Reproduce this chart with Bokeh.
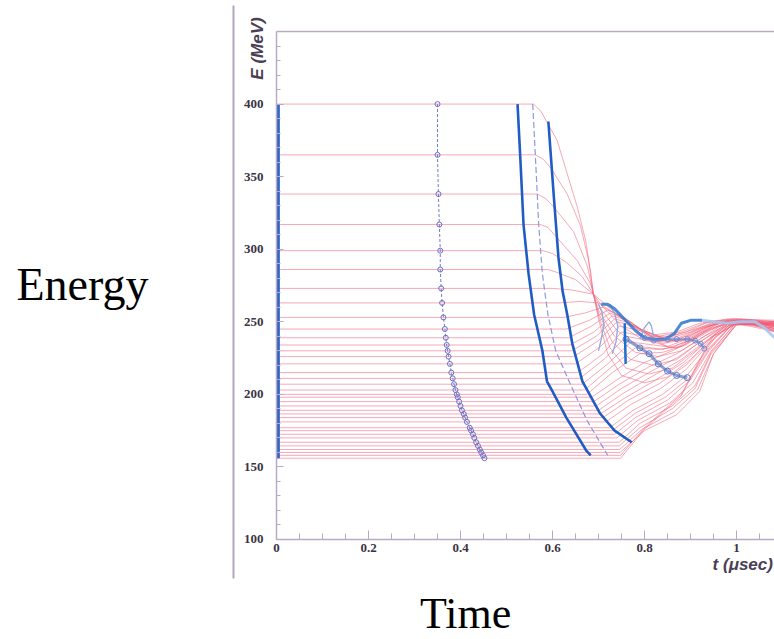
from bokeh.plotting import figure
from bokeh.models import Range1d, LinearAxis, FixedTicker, Label, Arrow, CustomJSTickFormatter
from bokeh.embed import file_html
from bokeh.resources import INLINE

# ---------------- data (t in microseconds, E in MeV) ----------------
E0 = [400, 365, 338, 317, 299, 286, 273, 263, 253, 245, 239, 234, 230, 226, 221, 215, 211, 207, 203, 200,
      198, 195, 192, 189, 186.5, 184, 181, 177, 175, 172.5, 170, 167, 164.5, 162, 160, 158, 156]

START_T = 0.004

BEND_T = [0.559, 0.563, 0.567, 0.574, 0.58, 0.59, 0.60, 0.615, 0.625, 0.63, 0.635, 0.638, 0.642, 0.646,
          0.65, 0.655, 0.66, 0.665, 0.67, 0.675, 0.685, 0.69, 0.695, 0.70, 0.704, 0.71, 0.716, 0.724,
          0.73, 0.735, 0.74, 0.745, 0.745, 0.746, 0.747, 0.748, 0.748]

TAIL_T = [
    [.575, .61, .632, .654, .672, .683, .689, .70, .72, .75, .80, .85, .90, .95, 1.0, 1.05, 1.09],
    [.58, .596, .632, .661, .678, .689, .70, .725, .76, .81, .86, .91, .96, 1.0, 1.05, 1.09],
    [.585, .603, .646, .676, .689, .70, .73, .77, .82, .87, .92, .97, 1.02, 1.09],
    [.59, .607, .654, .683, .689, .70, .735, .78, .83, .88, .93, .98, 1.03, 1.09],
    [.60, .63, .665, .689, .705, .74, .79, .84, .89, .94, .99, 1.04, 1.09],
    [.61, .65, .689, .71, .75, .80, .85, .90, .95, 1.0, 1.09],
    [.64, .689, .715, .76, .81, .86, .91, .96, 1.01, 1.09],
    [.66, .70, .73, .77, .82, .87, .92, .98, 1.09],
    [.67, .71, .74, .78, .83, .88, .93, .99, 1.09],
    [.68, .72, .75, .79, .84, .89, .94, 1.0, 1.09],
    [.685, .725, .76, .80, .85, .90, .95, 1.01, 1.09],
    [.69, .73, .765, .81, .86, .91, .96, 1.02, 1.09],
    [.695, .735, .77, .82, .87, .92, .97, 1.03, 1.09],
    [.70, .74, .78, .83, .88, .93, .98, 1.09],
    [.705, .745, .79, .84, .89, .94, .99, 1.09],
    [.71, .75, .80, .85, .90, .95, 1.0, 1.09],
    [.715, .76, .81, .86, .91, .96, 1.01, 1.09],
    [.72, .77, .82, .87, .92, .97, 1.02, 1.09],
    [.725, .78, .83, .88, .93, .98, 1.09],
    [.73, .79, .84, .89, .94, .99, 1.09],
    [.74, .80, .86, .91, .96, 1.01, 1.09],
    [.745, .81, .87, .92, .97, 1.02, 1.09],
    [.75, .815, .875, .925, .975, 1.03, 1.09],
    [.755, .82, .88, .93, .98, 1.03, 1.09],
    [.76, .825, .885, .93, .98, 1.04, 1.09],
    [.765, .83, .89, .935, .985, 1.04, 1.09],
    [.77, .835, .89, .935, .985, 1.09],
    [.775, .84, .895, .94, .99, 1.09],
    [.78, .845, .90, .94, .99, 1.09],
    [.78, .85, .90, .94, .99, 1.09],
    [.785, .855, .905, .945, .995, 1.09],
    [.79, .86, .91, .945, .995, 1.09],
    [.79, .86, .91, .945, 1.0, 1.09],
    [.795, .865, .915, .95, 1.0, 1.09],
    [.80, .87, .92, .95, 1.0, 1.09],
    [.80, .88, .93, .95, 1.0, 1.09],
    [.80, .88, .93, .955, 1.0, 1.09],
]
TAIL_E = [
    [395, 375, 352, 329, 306, 284, 269, 252, 228, 213, 208, 212, 224, 240, 249, 249, 242],
    [362, 356, 338, 316, 293, 269, 254, 232, 218, 214, 218, 230, 243, 250, 250, 244],
    [335, 329, 312, 288, 269, 256, 236, 224, 220, 224, 236, 246, 251, 246],
    [315, 309, 292, 276, 269, 258, 240, 229, 226, 230, 240, 248, 251, 247],
    [297, 291, 281, 269, 259, 244, 233, 231, 236, 244, 250, 251, 248],
    [284, 279, 269, 260, 247, 237, 236, 241, 248, 251, 249],
    [272, 269, 262, 250, 240, 240, 245, 250, 252, 250],
    [264, 263, 257, 248, 241, 243, 249, 252, 251],
    [256, 260, 255, 246, 240, 243, 249, 252, 250],
    [251, 258, 254, 245, 239, 243, 250, 252, 249],
    [247, 256, 252, 243, 238, 243, 250, 251, 248],
    [243, 254, 251, 241, 237, 244, 250, 251, 247],
    [240, 252, 249, 239, 237, 245, 250, 250, 246],
    [237, 250, 247, 237, 237, 246, 251, 245],
    [233, 247, 244, 235, 238, 247, 251, 245],
    [228, 243, 240, 233, 239, 248, 251, 244],
    [225, 240, 237, 232, 240, 249, 250, 243],
    [221, 236, 234, 232, 242, 250, 250, 242],
    [218, 232, 231, 233, 243, 250, 243],
    [215, 228, 229, 234, 245, 250, 244],
    [210, 222, 230, 238, 247, 250, 245],
    [207, 219, 228, 238, 248, 250, 246],
    [204, 216, 226, 237, 248, 250, 246],
    [201, 213, 224, 236, 248, 250, 247],
    [198, 210, 222, 235, 248, 250, 247],
    [196, 207, 220, 234, 248, 250, 247],
    [193, 204, 217, 233, 248, 248],
    [189, 200, 214, 232, 248, 248],
    [187, 198, 212, 231, 248, 248],
    [184, 196, 210, 230, 248, 249],
    [182, 194, 208, 230, 248, 249],
    [180, 192, 206, 229, 248, 249],
    [177, 190, 204, 228, 248, 249],
    [176, 188, 203, 228, 248, 250],
    [175, 186, 202, 228, 249, 250],
    [177, 200, 230, 240, 249, 250],
    [176, 199, 229, 240, 249, 250],
]

CIRCLE_T = [0.350, 0.350, 0.352, 0.354, 0.356, 0.356, 0.358, 0.360, 0.363, 0.366, 0.368, 0.370, 0.372,
            0.374, 0.377, 0.380, 0.383, 0.386, 0.389, 0.392, 0.394, 0.397, 0.400, 0.403, 0.407, 0.410,
            0.414, 0.420, 0.423, 0.427, 0.430, 0.434, 0.438, 0.442, 0.445, 0.449, 0.452]

A_T = [0.524, 0.530, 0.537, 0.548, 0.560, 0.578, 0.588, 0.600, 0.630, 0.674, 0.683]
A_E = [400, 363, 317, 283, 255, 230, 209, 202, 184, 161, 158]
B_T = [0.557, 0.563, 0.570, 0.578, 0.590, 0.607, 0.636, 0.675, 0.720]
B_E = [400, 363, 317, 283, 255, 230, 209, 182, 158]
C_T = [0.591, 0.602, 0.613, 0.622, 0.632, 0.643, 0.665, 0.703, 0.735, 0.772]
C_E = [388, 340, 294, 271, 255, 235, 209, 187, 175, 167]

BAND1_T = [0.706, 0.72, 0.735, 0.75, 0.765, 0.78, 0.80, 0.82, 0.845, 0.865, 0.88, 0.90, 0.925]
BAND1_E = [262, 262, 259, 254, 249, 244, 239, 238, 238, 242, 249, 251, 251]
BAND1B_T = [0.925, 0.95, 0.98, 1.01, 1.04, 1.06, 1.083]
BAND1B_E = [251, 250, 249, 250, 250, 246, 239]
BAND2_T = [0.76, 0.79, 0.81, 0.83, 0.85, 0.87, 0.893]
BAND2_E = [238, 232, 228, 221, 216, 213, 211.5]
BAND3_T = [0.80, 0.82, 0.85, 0.87, 0.893, 0.91, 0.922, 0.93]
BAND3_E = [239, 237, 238, 238, 238, 237, 235, 231.5]
SPIKE_T = [0.757, 0.758, 0.759]
SPIKE_E = [249, 235, 221]
CURL1_T = [0.700, 0.708, 0.712, 0.706, 0.700]
CURL1_E = [262, 256, 248, 238, 230]
CURL2_T = [0.725, 0.735, 0.742, 0.738, 0.730]
CURL2_E = [262, 256, 247, 236, 228]
CURL3_T = [0.79, 0.80, 0.81, 0.815, 0.82]
CURL3_E = [238, 246, 250, 247, 240]

X_TICKS = [0, 0.2, 0.4, 0.6, 0.8, 1.0]
X_MINOR = [0.05, 0.1, 0.15, 0.25, 0.3, 0.35, 0.45, 0.5, 0.55, 0.65, 0.7, 0.75, 0.85, 0.9, 0.95, 1.05]
Y_TICKS = [100, 150, 200, 250, 300, 350, 400]
Y_MINOR = [110, 120, 130, 140, 160, 170, 180, 190, 210, 220, 230, 240, 260, 270, 280, 290,
           310, 320, 330, 340, 360, 370, 380, 390, 410, 420, 430, 440]
T_MAX = 1.0826
E_MIN, E_MAX = 100, 450

# ---------------- figure ----------------
AXIS_COL = "#b9aac3"
LABEL_COL = "#3b3344"

# the frame covers the whole page; the axes sit at fixed data locations inside it
p = figure(width=774, height=639, x_range=Range1d(-0.6, T_MAX), y_range=Range1d(31.10, 471.36),
           output_backend="svg", toolbar_location=None, x_axis_type=None, y_axis_type=None,
           min_border=0)
p.outline_line_color = None
p.background_fill_color = "white"
p.border_fill_color = "white"

fmt = CustomJSTickFormatter(code="return String(Math.round(tick*10)/10);")
xaxis = LinearAxis(ticker=FixedTicker(ticks=X_TICKS, minor_ticks=X_MINOR), formatter=fmt,
                   fixed_location=E_MIN, bounds=(0, T_MAX),
                   axis_line_color=AXIS_COL, axis_line_width=1.5,
                   major_tick_line_color=AXIS_COL, minor_tick_line_color=AXIS_COL,
                   major_tick_in=9, major_tick_out=0, minor_tick_in=6, minor_tick_out=0,
                   major_label_standoff=5, major_label_text_font="Liberation Serif",
                   major_label_text_font_style="bold", major_label_text_font_size="13px",
                   major_label_text_color=LABEL_COL)
p.add_layout(xaxis, "below")
yaxis = LinearAxis(ticker=FixedTicker(ticks=Y_TICKS, minor_ticks=Y_MINOR),
                   fixed_location=0, bounds=(E_MIN, E_MAX),
                   axis_line_color=AXIS_COL, axis_line_width=1.5,
                   major_tick_line_color=AXIS_COL, minor_tick_line_color=AXIS_COL,
                   major_tick_in=7, major_tick_out=0, minor_tick_in=4, minor_tick_out=0,
                   major_label_standoff=13, major_label_text_font="Liberation Serif",
                   major_label_text_font_style="bold", major_label_text_font_size="13px",
                   major_label_text_color=LABEL_COL)
p.add_layout(yaxis, "left")
top = LinearAxis(ticker=FixedTicker(ticks=[]), fixed_location=E_MAX, bounds=(0, T_MAX),
                 axis_line_color=AXIS_COL, axis_line_width=1.5,
                 major_tick_in=0, major_tick_out=0, minor_tick_in=0, minor_tick_out=0,
                 major_label_text_font_size="0px")
p.add_layout(top, "above")

# red trajectories
xs = [[0, BEND_T[i]] + TAIL_T[i] for i in range(len(E0))]
ys = [[E0[i], E0[i]] + TAIL_E[i] for i in range(len(E0))]
p.multi_line(xs=xs, ys=ys, line_color="#f0607a", line_alpha=0.55, line_width=1)

# blue curves
p.line([START_T] * len(E0), E0, line_color="#2a64c8", line_width=3)
p.line(CIRCLE_T, E0, line_color="#7078c8", line_width=1, line_dash="3 2")
p.scatter(CIRCLE_T, E0, marker="circle", size=5, fill_color=None, line_color="#6a70c8", line_width=1)
p.line(A_T, A_E, line_color="#1f5cc4", line_width=2.6)
p.line(B_T, B_E, line_color="#8c98e0", line_width=1.2, line_dash="6 3")
p.line(C_T, C_E, line_color="#1f5cc4", line_width=2.6)

p.line(CURL1_T, CURL1_E, line_color="#90a8e0", line_width=1.3)
p.line(CURL2_T, CURL2_E, line_color="#90a8e0", line_width=1.3)
p.line(CURL3_T, CURL3_E, line_color="#90a8e0", line_width=1.3)
p.line(BAND1_T, BAND1_E, line_color="#2f74cf", line_width=3, line_alpha=0.85)
p.line(BAND1B_T, BAND1B_E, line_color="#a8c6ee", line_width=3, line_alpha=0.9)
p.line(BAND2_T, BAND2_E, line_color="#5478c8", line_width=3, line_alpha=0.7)
p.scatter(BAND2_T, BAND2_E, marker="circle", size=6, fill_color=None, line_color="#5478c8")
p.line(BAND3_T, BAND3_E, line_color="#6a88d0", line_width=2, line_alpha=0.8)
p.scatter(BAND3_T, BAND3_E, marker="circle", size=5, fill_color=None, line_color="#6a88d0")
p.line(SPIKE_T, SPIKE_E, line_color="#1a70d0", line_width=2.5)

# outer frame line and texts
p.add_layout(Arrow(end=None, x_start=-0.0935, y_start=467.9, x_end=-0.0935, y_end=73.1,
                   line_color="#b4a4be", line_width=2))
p.add_layout(Label(x=-0.0413, y=438.3, text="E (MeV)", angle=1.5708, text_align="center",
                   text_baseline="middle", text_font="Liberation Sans", text_font_style="bold italic",
                   text_font_size="17px", text_color="#4a4055"))
p.add_layout(Label(x=0.948, y=82.8, text="t (\u03bcsec)", text_align="left",
                   text_baseline="alphabetic", text_font="Liberation Sans",
                   text_font_style="bold italic", text_font_size="17px", text_color="#4a4055"))
p.add_layout(Label(x=-0.4217, y=275.7, text="Energy", text_align="center", text_baseline="alphabetic",
                   text_font="Liberation Serif", text_font_size="46px", text_color="black"))
p.add_layout(Label(x=0.411, y=49.0, text="Time", text_align="center", text_baseline="alphabetic",
                   text_font="Liberation Serif", text_font_size="44px", text_color="black"))

open("out.html", "w").write(file_html(p, INLINE))
